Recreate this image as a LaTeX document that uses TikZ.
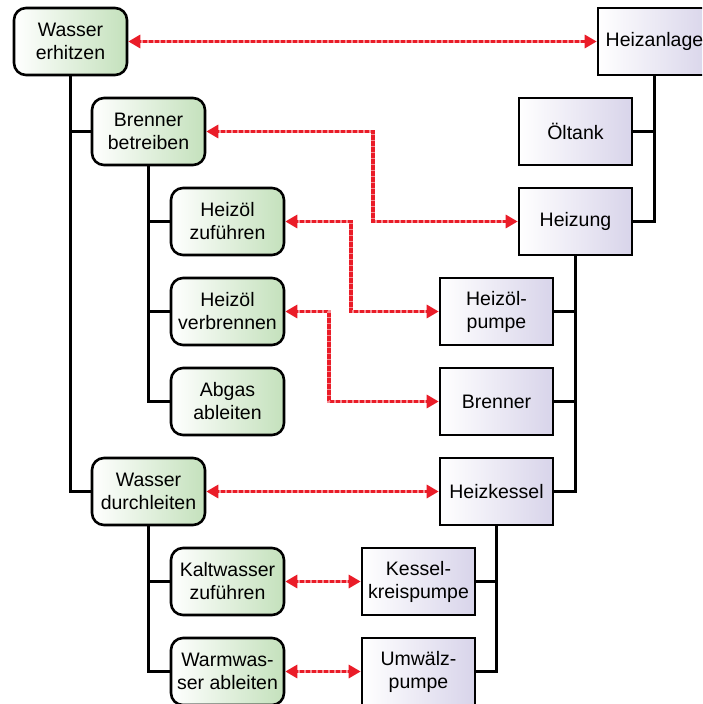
\documentclass[tikz,border=0pt]{standalone}
\usepackage{fontspec}
\setmainfont{Liberation Sans}
\usetikzlibrary{arrows.meta}
\definecolor{fnright}{HTML}{C4E1BC}
\definecolor{objright}{HTML}{D8D4EA}
\definecolor{linkred}{HTML}{EA1C28}
\tikzset{
  box/.style={draw=black, line width=2.6pt, minimum width=113pt, minimum height=67pt,
    inner sep=0pt, align=center, font=\fontsize{19.5}{23}\selectfont},
  fn/.style={box, rounded corners=12pt, left color=white, right color=fnright},
  obj/.style={box, left color=white, right color=objright},
  tree/.style={draw=black, line width=2.5pt},
  link/.style={draw=linkred, line width=3.2pt,
    {Triangle[length=12pt,width=13pt]}-{Triangle[length=12pt,width=13pt]},
    postaction={draw=white, draw opacity=0.5, line width=3.2pt, dash pattern=on 1.2pt off 4.8pt,
      -, shorten <=13pt, shorten >=13pt}},
}
\begin{document}
\begin{tikzpicture}[x=1pt,y=-1pt]
\useasboundingbox (0,0) rectangle (702,704);
\clip (0,0) rectangle (702,704);
\fill[white] (0,0) rectangle (702,704);

% functions
\node[fn] (we) at (70.5,41.5) {Wasser\\erhitzen};
\node[fn] (bb) at (148.5,131.5) {Brenner\\betreiben};
\node[fn] (hz) at (227.5,221.5) {Heizöl\\zuführen};
\node[fn] (hv) at (227.5,311.5) {Heizöl\\verbrennen};
\node[fn] (aa) at (227.5,401.5) {Abgas\\ableiten};
\node[fn] (wd) at (148.5,491.5) {Wasser\\durchleiten};
\node[fn] (kz) at (227.5,581.5) {Kaltwasser\\zuführen};
\node[fn] (wa) at (227.5,671.5) {Warmwas-\\ser ableiten};

% components
\node[obj] (ha) at (654.5,41.5) {Heizanlage};
\node[obj] (ot) at (575.5,131.5) {Öltank};
\node[obj] (hg) at (575.5,221.5) {Heizung};
\node[obj] (hp) at (496.5,311.5) {Heizöl-\\pumpe};
\node[obj] (br) at (496.5,401.5) {Brenner};
\node[obj] (hk) at (496.5,491.5) {Heizkessel};
\node[obj] (kp) at (418.5,581.5) {Kessel-\\kreispumpe};
\node[obj] (up) at (418.5,671.5) {Umwälz-\\pumpe};

% function tree
\draw[tree] (we.south) |- (wd.west);
\draw[tree] (we.south |- bb.west) -- (bb.west);
\draw[tree] (bb.south) |- (aa.west);
\draw[tree] (bb.south |- hz.west) -- (hz.west);
\draw[tree] (bb.south |- hv.west) -- (hv.west);
\draw[tree] (wd.south) |- (wa.west);
\draw[tree] (wd.south |- kz.west) -- (kz.west);

% component tree
\draw[tree] (ha.south) |- (hg.east);
\draw[tree] (ha.south |- ot.east) -- (ot.east);
\draw[tree] (hg.south) |- (hk.east);
\draw[tree] (hg.south |- hp.east) -- (hp.east);
\draw[tree] (hg.south |- br.east) -- (br.east);
\draw[tree] (hk.south) |- (up.east);
\draw[tree] (hk.south |- kp.east) -- (kp.east);

% allocations
\draw[link] (we.east) -- (ha.west);
\draw[link] (bb.east) -- (373,131.5) |- (hg.west);
\draw[link] (hz.east) -- (351,221.5) |- (hp.west);
\draw[link] (hv.east) -- (329,311.5) |- (br.west);
\draw[link] (wd.east) -- (hk.west);
\draw[link] (kz.east) -- (kp.west);
\draw[link] (wa.east) -- (up.west);
\end{tikzpicture}
\end{document}
